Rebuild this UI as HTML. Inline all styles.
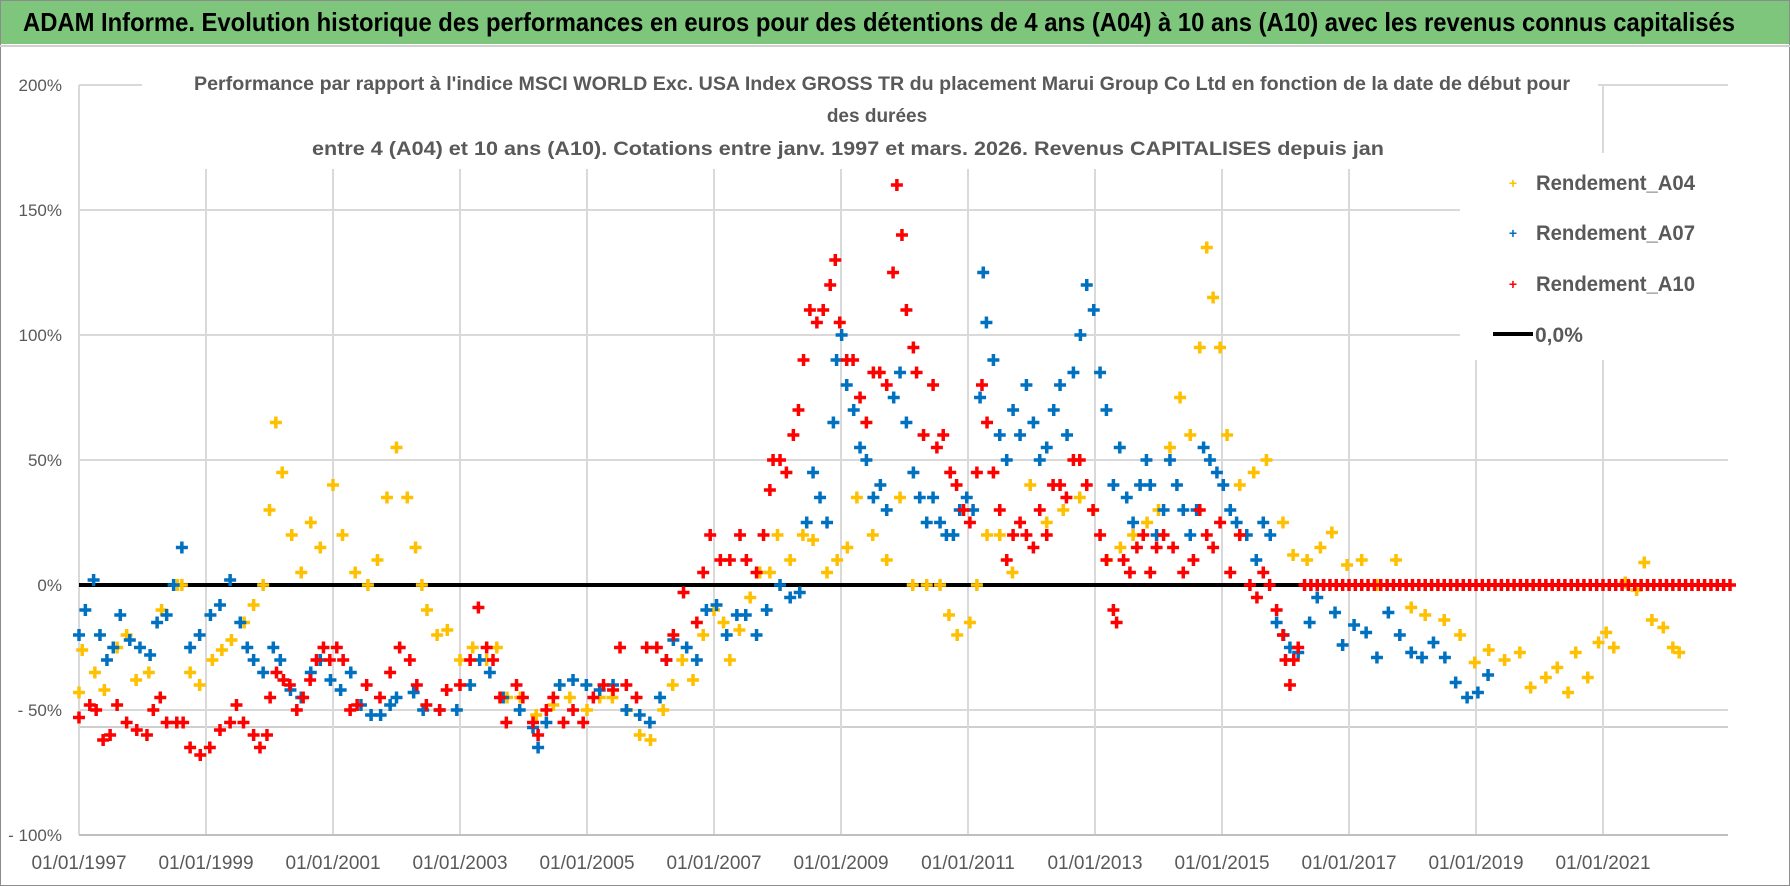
<!DOCTYPE html>
<html><head><meta charset="utf-8"><title>ADAM Informe</title>
<style>
html,body{margin:0;padding:0;background:#fff;}
svg{display:block;}
text{font-family:"Liberation Sans",sans-serif;}
</style></head>
<body>
<svg id="chart" width="1790" height="886" viewBox="0 0 1790 886" xmlns="http://www.w3.org/2000/svg">
  <rect x="0" y="0" width="1790" height="886" fill="#ffffff"/>
  <rect x="0.5" y="0.5" width="1789" height="885" fill="none" stroke="#8c8c8c" stroke-width="1"/>
  <rect x="1" y="1" width="1788" height="43" fill="#7dc67b"/>
  <line x1="0" y1="46" x2="1790" y2="46" stroke="#d0d0d0" stroke-width="2"/>
  <text x="23" y="31" font-size="26" font-weight="bold" fill="#000" textLength="1712" lengthAdjust="spacingAndGlyphs">ADAM Informe. Evolution historique des performances en euros pour des détentions de 4 ans (A04) à 10 ans (A10) avec les revenus connus capitalisés</text>
  <g id="grid"></g>
  <g id="marks"></g>
  <g id="axes"></g>
  <rect x="142" y="66" width="1456" height="103" fill="#fff"/>
  <text x="194" y="90" font-size="19" font-weight="bold" fill="#595959" textLength="1376" lengthAdjust="spacingAndGlyphs">Performance par rapport à l'indice MSCI WORLD Exc. USA Index GROSS TR  du placement Marui Group Co Ltd en fonction de la date de début pour</text>
  <text x="877" y="122" font-size="19" font-weight="bold" fill="#595959" text-anchor="middle">des durées</text>
  <text x="312" y="155" font-size="19" font-weight="bold" fill="#595959" textLength="1072" lengthAdjust="spacingAndGlyphs">entre 4 (A04) et 10 ans (A10).  Cotations entre janv. 1997 et mars. 2026. Revenus CAPITALISES depuis jan</text>
  <g>
    <rect x="1460" y="153" width="268" height="207" fill="#fff"/>
    <g>
      <text x="1513" y="188" font-size="14" font-weight="bold" fill="#ffc000" text-anchor="middle">+</text>
      <text x="1536" y="190" font-size="21" font-weight="bold" fill="#595959" textLength="159" lengthAdjust="spacingAndGlyphs">Rendement_A04</text>
    </g>
    <g>
      <text x="1513" y="238" font-size="14" font-weight="bold" fill="#0070c0" text-anchor="middle">+</text>
      <text x="1536" y="240" font-size="21" font-weight="bold" fill="#595959" textLength="159" lengthAdjust="spacingAndGlyphs">Rendement_A07</text>
    </g>
    <g>
      <text x="1513" y="289" font-size="14" font-weight="bold" fill="#ff0000" text-anchor="middle">+</text>
      <text x="1536" y="291" font-size="21" font-weight="bold" fill="#595959" textLength="159" lengthAdjust="spacingAndGlyphs">Rendement_A10</text>
    </g>
    <g>
      <line x1="1493" y1="334" x2="1533" y2="334" stroke="#000" stroke-width="4"/>
      <text x="1535" y="342" font-size="21" font-weight="bold" fill="#595959">0,0%</text>
    </g>
  </g>
</svg>
<script>
const a04Dates=[1997.0,1997.05,1997.25,1997.4,1997.6,1997.75,1997.9,1998.1,1998.3,1998.55,1998.62,1998.75,1998.9,1999.1,1999.25,1999.4,1999.6,1999.75,1999.9,2000.0,2000.1,2000.2,2000.35,2000.5,2000.65,2000.8,2001.0,2001.15,2001.35,2001.55,2001.7,2001.85,2002.0,2002.17,2002.3,2002.4,2002.48,2002.64,2002.8,2003.0,2003.2,2003.42,2003.58,2003.74,2003.95,2004.2,2004.47,2004.73,2005.0,2005.2,2005.4,2005.63,2005.83,2006.0,2006.2,2006.35,2006.5,2006.67,2006.83,2007.0,2007.15,2007.25,2007.4,2007.57,2007.72,2007.88,2008.0,2008.2,2008.4,2008.56,2008.78,2008.94,2009.1,2009.25,2009.5,2009.72,2009.93,2010.13,2010.35,2010.56,2010.7,2010.83,2011.03,2011.14,2011.3,2011.5,2011.7,2011.98,2012.24,2012.5,2012.76,2012.97,2013.19,2013.4,2013.6,2013.82,2014.0,2014.18,2014.34,2014.5,2014.65,2014.76,2014.86,2014.97,2015.08,2015.28,2015.5,2015.7,2015.96,2016.12,2016.34,2016.55,2016.73,2016.97,2017.2,2017.44,2017.74,2017.98,2018.2,2018.5,2018.75,2018.98,2019.2,2019.45,2019.69,2019.86,2020.1,2020.28,2020.45,2020.57,2020.76,2020.93,2021.05,2021.17,2021.35,2021.53,2021.65,2021.77,2021.95,2022.1,2022.2];
const a04Values=[-43,-26,-35,-42,-25,-20,-38,-35,-10,0,0,-35,-40,-30,-26,-22,-15,-8,0,30,65,45,20,5,25,15,40,20,5,0,10,35,55,35,15,0,-10,-20,-18,-30,-25,-30,-25,-45,-45,-52,-48,-45,-50,-45,-45,-50,-60,-62,-50,-40,-30,-38,-20,-10,-15,-30,-18,-5,5,5,20,10,20,18,5,10,15,35,20,10,35,0,0,0,-12,-20,-15,0,20,20,5,40,25,30,35,30,10,15,20,25,30,55,75,60,95,135,115,95,60,40,45,50,25,12,10,15,21,8,10,0,10,-9,-12,-14,-20,-31,-26,-30,-27,-41,-37,-33,-43,-27,-37,-23,-19,-25,1,-2,9,-14,-17,-25,-27];
const a07Dates=[1997.0,1997.1,1997.23,1997.33,1997.44,1997.54,1997.65,1997.8,1997.96,1998.12,1998.23,1998.38,1998.49,1998.62,1998.75,1998.9,1999.07,1999.22,1999.38,1999.54,1999.65,1999.75,1999.9,2000.06,2000.17,2000.33,2000.5,2000.65,2000.8,2000.96,2001.12,2001.28,2001.44,2001.6,2001.75,2001.9,2002.0,2002.27,2002.42,2002.68,2002.95,2003.16,2003.31,2003.47,2003.68,2003.94,2004.15,2004.23,2004.36,2004.57,2004.78,2004.99,2005.2,2005.41,2005.62,2005.83,2005.99,2006.15,2006.25,2006.36,2006.57,2006.73,2006.88,2007.04,2007.2,2007.36,2007.5,2007.67,2007.83,2008.04,2008.2,2008.35,2008.46,2008.56,2008.67,2008.78,2008.88,2008.93,2009.01,2009.09,2009.2,2009.3,2009.4,2009.51,2009.62,2009.72,2009.83,2009.93,2010.03,2010.14,2010.24,2010.35,2010.45,2010.56,2010.66,2010.77,2010.87,2010.98,2011.08,2011.19,2011.24,2011.29,2011.4,2011.5,2011.61,2011.71,2011.82,2011.92,2012.03,2012.13,2012.24,2012.35,2012.45,2012.56,2012.66,2012.77,2012.87,2012.98,2013.08,2013.18,2013.29,2013.39,2013.5,2013.6,2013.71,2013.81,2013.87,2013.97,2014.08,2014.18,2014.29,2014.39,2014.5,2014.6,2014.71,2014.81,2014.92,2015.02,2015.13,2015.23,2015.39,2015.54,2015.65,2015.76,2015.86,2015.97,2016.07,2016.2,2016.38,2016.5,2016.6,2016.78,2016.9,2017.08,2017.27,2017.44,2017.62,2017.8,2017.98,2018.15,2018.33,2018.51,2018.68,2018.86,2019.03,2019.19];
const a07Values=[-20,-10,2,-20,-30,-25,-12,-22,-25,-28,-15,-12,0,15,-25,-20,-12,-8,2,-15,-25,-30,-35,-25,-30,-42,-45,-35,-30,-38,-42,-35,-48,-52,-52,-48,-45,-43,-50,-50,-50,-40,-30,-35,-45,-50,-57,-65,-55,-40,-38,-40,-42,-40,-50,-52,-55,-45,-30,-22,-25,-30,-10,-8,-20,-12,-12,-20,-10,0,-5,-3,25,45,35,25,65,90,100,80,70,55,50,35,40,30,75,85,65,45,35,25,35,25,20,20,30,35,30,75,125,105,90,60,50,70,60,80,65,50,55,70,80,60,85,100,120,110,85,70,40,55,35,25,40,50,40,20,30,50,40,30,20,30,55,50,45,40,30,25,20,10,25,20,-15,-20,-25,-27,-15,-5,0,-11,-24,-16,-19,-29,-11,-20,-27,-29,-23,-29,-39,-45,-43,-36];
const a10Dates=[1997.0,1997.17,1997.27,1997.38,1997.49,1997.6,1997.75,1997.91,1998.07,1998.17,1998.28,1998.38,1998.54,1998.64,1998.75,1998.91,1999.06,1999.22,1999.38,1999.48,1999.59,1999.75,1999.85,1999.96,2000.01,2000.11,2000.22,2000.32,2000.43,2000.53,2000.64,2000.74,2000.85,2000.95,2001.06,2001.16,2001.27,2001.38,2001.53,2001.74,2001.9,2002.05,2002.21,2002.32,2002.47,2002.68,2002.79,2003.0,2003.16,2003.29,2003.42,2003.52,2003.63,2003.73,2003.89,2003.99,2004.15,2004.23,2004.36,2004.47,2004.63,2004.78,2004.94,2005.1,2005.26,2005.41,2005.52,2005.62,2005.78,2005.94,2006.1,2006.25,2006.36,2006.52,2006.73,2006.83,2006.94,2007.1,2007.25,2007.41,2007.51,2007.67,2007.78,2007.88,2007.93,2008.04,2008.14,2008.25,2008.33,2008.41,2008.51,2008.62,2008.72,2008.83,2008.91,2008.98,2009.09,2009.19,2009.3,2009.4,2009.51,2009.61,2009.72,2009.82,2009.88,2009.96,2010.03,2010.14,2010.19,2010.3,2010.45,2010.51,2010.61,2010.72,2010.82,2010.93,2011.03,2011.14,2011.22,2011.3,2011.4,2011.5,2011.61,2011.71,2011.82,2011.92,2012.03,2012.13,2012.24,2012.34,2012.45,2012.55,2012.66,2012.76,2012.87,2012.97,2013.08,2013.18,2013.29,2013.34,2013.45,2013.55,2013.66,2013.76,2013.87,2013.97,2014.08,2014.23,2014.39,2014.55,2014.65,2014.76,2014.86,2014.97,2015.13,2015.28,2015.44,2015.55,2015.65,2015.75,2015.86,2015.96,2016.0,2016.07,2016.13,2016.2,
2016.3,2016.4,2016.5,2016.6,2016.7,2016.8,2016.9,2017.0,2017.1,2017.2,2017.3,2017.4,2017.5,2017.6,2017.7,2017.8,2017.9,2018.0,2018.1,2018.2,2018.3,2018.4,2018.5,2018.6,2018.7,2018.8,2018.9,2019.0,2019.1,2019.2,2019.3,2019.4,2019.5,2019.6,2019.7,2019.8,2019.9,2020.0,2020.1,2020.2,2020.3,2020.4,2020.5,2020.6,2020.7,2020.8,2020.9,2021.0,2021.1,2021.2,2021.3,2021.4,2021.5,2021.6,2021.7,2021.8,2021.9,2022.0,2022.1,2022.2,2022.3,2022.4,2022.5,2022.6,2022.7,2022.8,2022.9,2023.0];
const a10Values=[-53,-48,-50,-62,-60,-48,-55,-58,-60,-50,-45,-55,-55,-55,-65,-68,-65,-58,-55,-48,-55,-60,-65,-60,-45,-35,-38,-40,-50,-45,-38,-30,-25,-30,-25,-30,-50,-48,-40,-45,-35,-25,-30,-40,-48,-50,-42,-40,-30,-9,-25,-30,-45,-55,-40,-45,-55,-60,-50,-45,-55,-50,-55,-45,-40,-42,-25,-40,-45,-25,-25,-30,-20,-3,-15,5,20,10,10,20,10,5,20,38,50,50,45,60,70,90,110,105,110,120,130,105,90,90,75,65,85,85,80,125,160,140,110,95,85,60,80,55,60,45,40,30,25,45,80,65,45,30,10,20,25,20,15,30,20,40,40,35,50,50,40,30,20,10,-10,-15,10,5,15,20,5,15,20,15,5,10,30,20,15,25,5,20,0,-5,5,0,-10,-20,-30,-40,-30,-25,
0,0,0,0,0,0,0,0,0,0,0,0,0,0,0,0,0,0,0,0,0,0,0,0,0,0,0,0,0,0,0,0,0,0,0,0,0,0,0,0,0,0,0,0,0,0,0,0,0,0,0,0,0,0,0,0,0,0,0,0,0,0,0,0,0,0,0,0];
const yTickValues=[200,150,100,50,0,-50,-100];
const yTickLabels=["200%","150%","100%","50%","0%","- 50%","- 100%"];
const xTickYears=[1997,1999,2001,2003,2005,2007,2009,2011,2013,2015,2017,2019,2021];
const xTickLabels=["01/01/1997","01/01/1999","01/01/2001","01/01/2003","01/01/2005","01/01/2007","01/01/2009","01/01/2011","01/01/2013","01/01/2015","01/01/2017","01/01/2019","01/01/2021"];

const NS="http://www.w3.org/2000/svg";
const PX0=79, PX1=1728, PY0=85, PY1=835;
function xs(yr){return PX0+(yr-1997)*63.5;}
function ys(v){return 585-v*2.5;}
function mk(tag,attrs,parent){const e=document.createElementNS(NS,tag);for(const k in attrs)e.setAttribute(k,attrs[k]);parent.appendChild(e);return e;}

const grid=document.getElementById('grid');
const axes=document.getElementById('axes');
const marks=document.getElementById('marks');

yTickValues.forEach((v,i)=>{
  if(v!==0 && v!==-100){
    const l=mk('line',{x1:PX0,x2:PX1,y1:ys(v),y2:ys(v),stroke:'#d9d9d9','stroke-width':2},grid);
    
    
  }
  const t=mk('text',{x:62,y:ys(v)+6,'font-size':17,fill:'#595959','text-anchor':'end'},axes);
  t.textContent=yTickLabels[i];
  
  
});
const extra=mk('line',{x1:PX0,x2:PX1,y1:727,y2:727,stroke:'#cfcfcf','stroke-width':2},grid);



xTickYears.forEach((yr,i)=>{
  const l=mk('line',{x1:xs(yr),x2:xs(yr),y1:PY0,y2:PY1,stroke:'#d9d9d9','stroke-width':2},grid);
  
  
  const t=mk('text',{x:xs(yr),y:869,'font-size':19,fill:'#595959','text-anchor':'middle'},axes);
  t.textContent=xTickLabels[i];
  
  
});
const bx=mk('line',{x1:PX0,x2:PX1,y1:PY1,y2:PY1,stroke:'#bfbfbf','stroke-width':2},axes);



const zl=mk('line',{x1:PX0,x2:PX1,y1:ys(0),y2:ys(0),stroke:'#000','stroke-width':4},marks);



function drawSeries(dates,vals,color,name){
  const g=mk('g',{stroke:color,'stroke-width':3.5},marks);
  
  
  dates.forEach((d,i)=>{
    const cx=xs(d), cy=ys(vals[i]);
    const p=mk('path',{d:`M${cx-6} ${cy}H${cx+6}M${cx} ${cy-6}V${cy+6}`},g);
    
    
  });
}
drawSeries(a04Dates,a04Values,'#ffc000','series-a04');
drawSeries(a07Dates,a07Values,'#0070c0','series-a07');
drawSeries(a10Dates,a10Values,'#ff0000','series-a10');
</script>
</body></html>
